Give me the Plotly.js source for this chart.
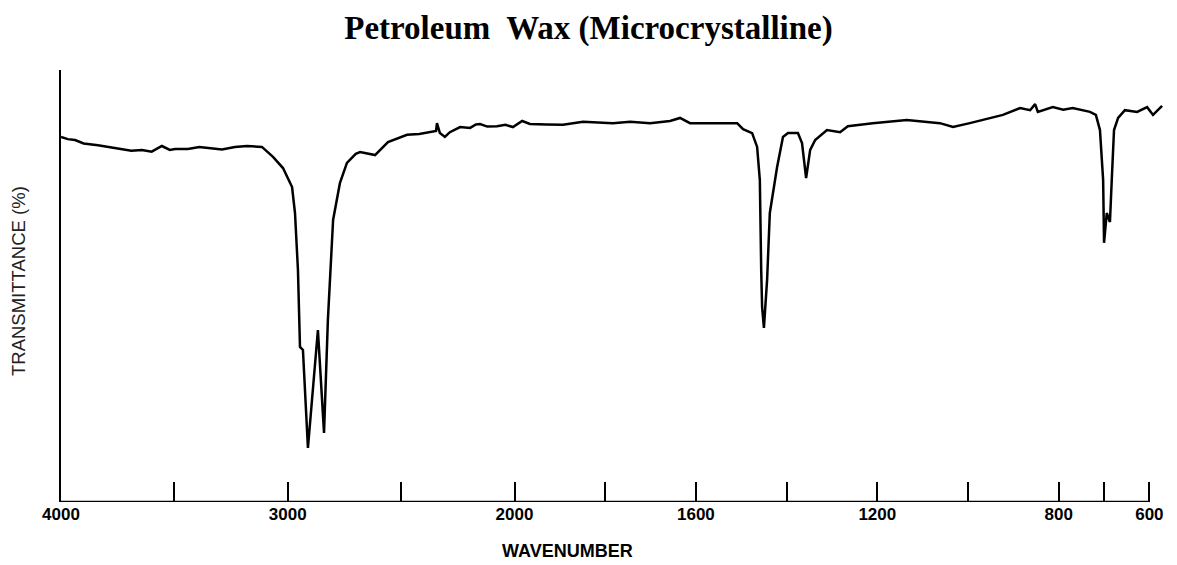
<!DOCTYPE html>
<html>
<head>
<meta charset="utf-8">
<script src="https://cdn.plot.ly/plotly-3.0.1.min.js"></script>
<style>
  html, body { margin: 0; padding: 0; background: #ffffff; }
  #chart { width: 1177px; height: 565px; }
</style>
</head>
<body>
<div id="chart"></div>
<script>
// Spectrum values (wavenumber in cm-1, transmittance in %)
const wavenumber = [
  4000, 3970, 3938, 3900, 3837, 3790, 3731, 3690, 3643, 3600,
  3555, 3520, 3497, 3440, 3390, 3334, 3290, 3233, 3180, 3114,
  3065, 3021, 2981, 2968, 2955, 2946, 2933, 2911, 2867, 2840,
  2823, 2800, 2770, 2739, 2700, 2681, 2650, 2615, 2558, 2474,
  2420, 2373, 2346, 2342, 2329, 2307, 2285, 2240, 2196, 2170,
  2152, 2120, 2077, 2040, 2007, 1983, 1966, 1930, 1893, 1849,
  1783, 1745, 1701, 1657, 1635, 1613, 1547, 1509, 1496, 1476,
  1465, 1459, 1456, 1454, 1450, 1443, 1437, 1421, 1408, 1397,
  1375, 1366, 1357, 1348, 1337, 1311, 1282, 1265, 1210, 1135,
  1062, 1033, 996, 952, 923, 885, 863, 852, 846, 813,
  790, 769, 731, 718, 709, 702, 700, 694, 687, 683,
  678, 669, 654, 627, 605, 592, 572
];
const transmittance = [
  84.5, 84.0, 83.8, 83.0, 82.6, 82.2, 81.7, 81.3, 81.5, 81.1,
  82.4, 81.5, 81.7, 81.7, 82.2, 81.9, 81.6, 82.2, 82.4, 82.2,
  79.9, 77.3, 72.9, 66.9, 53.7, 35.9, 35.2, 12.5, 39.8, 16.0,
  42.1, 65.3, 73.8, 78.5, 80.6, 81.0, 80.6, 80.3, 83.3, 85.0,
  85.2, 85.6, 85.9, 87.7, 85.4, 84.5, 85.6, 86.8, 86.6, 87.4,
  87.5, 86.9, 87.0, 87.3, 86.8, 88.2, 87.5, 87.4, 87.3, 88.0,
  87.7, 88.0, 87.7, 88.2, 88.9, 87.7, 87.7, 87.7, 86.3, 85.4,
  82.2, 74.5, 53.7, 45.1, 40.3, 51.4, 66.9, 77.5, 84.5, 85.4,
  85.4, 83.1, 75.0, 81.5, 83.8, 86.1, 85.6, 87.0, 87.7, 88.4,
  87.7, 86.8, 87.7, 88.9, 89.6, 91.2, 90.7, 92.1, 90.3, 91.4,
  90.8, 91.2, 90.3, 89.6, 86.1, 74.5, 60.0, 66.9, 64.8, 74.5,
  86.1, 88.9, 90.7, 90.3, 91.4, 89.6, 91.7
];

// Axis ticks
const tickWavenumbers = [4000, 3500, 3000, 2500, 2000, 1800, 1600, 1400, 1200, 1000, 800, 700, 600];
const tickLabels = ['4000', '', '3000', '', '2000', '', '1600', '', '1200', '', '800', '', '600'];

const chartTitle = 'Petroleum  Wax (Microcrystalline)';
const xTitle = 'WAVENUMBER';
const yTitle = 'TRANSMITTANCE (%)';

// IR chart scale: 4000-2000 is drawn at half the scale of 2000-600
function toAxis(w) {
  return w >= 2000 ? (4000 - w) / 2 : 1000 + (2000 - w);
}

const xs = wavenumber.map(toAxis);
const tickPos = tickWavenumbers.map(toAxis);
const axisStart = toAxis(Math.max(...tickWavenumbers));
const axisEnd = toAxis(Math.min(...tickWavenumbers));

const trace = {
  x: xs,
  y: transmittance,
  type: 'scatter',
  mode: 'lines',
  line: { color: '#000000', width: 2.5, shape: 'linear' },
  hoverinfo: 'skip',
  showlegend: false
};

const layout = {
  width: 1177,
  height: 565,
  paper_bgcolor: '#ffffff',
  plot_bgcolor: '#ffffff',
  margin: { l: 61, r: 14, t: 70, b: 63 },
  title: {
    text: '<b>' + chartTitle + '</b>',
    font: { family: 'Liberation Serif, Times New Roman, serif', size: 33, color: '#000000' },
    x: 0.5, xref: 'container', xanchor: 'center',
    y: 1 - 27 / 565, yref: 'container', yanchor: 'middle'
  },
  xaxis: {
    range: [axisStart, 2430],
    showgrid: false,
    zeroline: false,
    showline: false,
    tickmode: 'array',
    tickvals: tickPos,
    ticktext: tickLabels,
    ticks: 'inside',
    ticklen: 20,
    tickwidth: 2,
    tickcolor: '#000000',
    tickfont: { family: 'Liberation Sans, Arial, sans-serif', size: 17, color: '#000000', weight: 'bold' },
    fixedrange: true
  },
  yaxis: {
    range: [0, 100],
    showgrid: false,
    zeroline: false,
    showline: true,
    linecolor: '#000000',
    linewidth: 2.5,
    showticklabels: false,
    ticks: '',
    fixedrange: true
  },
  shapes: [
    {
      type: 'line', xref: 'x', yref: 'y',
      x0: axisStart, x1: axisEnd, y0: 0, y1: 0,
      line: { color: '#000000', width: 2.5 }
    }
  ],
  annotations: [
    {
      text: '<b>' + xTitle + '</b>',
      xref: 'paper', yref: 'paper',
      x: (567 - 61) / 1102, y: 0,
      xanchor: 'center', yanchor: 'middle',
      yshift: -49,
      showarrow: false,
      font: { family: 'Liberation Sans, Arial, sans-serif', size: 18, color: '#000000' }
    },
    {
      text: yTitle,
      xref: 'paper', yref: 'paper',
      x: 0, y: (502 - 281) / 432,
      xanchor: 'center', yanchor: 'middle',
      xshift: -43,
      textangle: -90,
      showarrow: false,
      font: { family: 'Liberation Sans, Arial, sans-serif', size: 18.5, color: '#222222' }
    }
  ]
};

Plotly.newPlot('chart', [trace], layout, { displayModeBar: false, staticPlot: true });
</script>
</body>
</html>
